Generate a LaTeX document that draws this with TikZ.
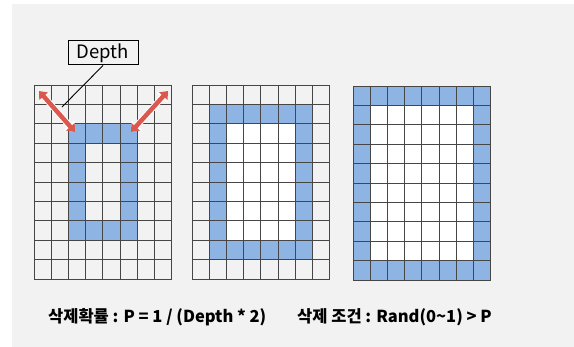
\documentclass[tikz,border=0pt]{standalone}
\usepackage{fontspec}
\setmainfont{Noto Sans CJK KR}
\usetikzlibrary{arrows.meta}
\definecolor{panel}{RGB}{242,242,242}
\definecolor{ring}{RGB}{141,180,226}
\definecolor{gridline}{RGB}{70,70,70}
\definecolor{arrowred}{RGB}{218,88,78}

% grid: x0, y0, ring from (col,row) to (col,row), inner colour
\newcommand{\ringgrid}[7]{%
  \begin{scope}[shift={(#1,#2)}, x=17.2pt, y=-19.4pt]
    \fill[ring] (#3,#4) rectangle (#5,#6);
    \fill[#7] (#3+1,#4+1) rectangle (#5-1,#6-1);
    \foreach \i in {0,...,8}
      \draw[gridline, line width=0.8pt] (\i,0) -- (\i,10);
    \foreach \j in {0,...,10}
      \draw[gridline, line width=0.8pt] (0,\j) -- (8,\j);
  \end{scope}}

\begin{document}
\begin{tikzpicture}[x=1pt, y=-1pt,
    depthbox/.style={draw, line width=1pt, minimum width=70pt, minimum height=24pt,
      inner sep=0pt, font=\fontsize{18.5}{18.5}\selectfont},
    formula/.style={anchor=west, inner sep=0pt, font=\fontsize{16.5}{20}\selectfont\bfseries},
    redarrow/.style={arrowred, line width=4.5pt,
      {Triangle[width=11pt,length=7pt]}-{Triangle[width=11pt,length=7pt]}},
    halo/.style={white, line width=6.5pt,
      {Triangle[width=14pt,length=9pt]}-{Triangle[width=14pt,length=9pt]}}]
  \useasboundingbox (0,0) rectangle (574,347);
  \fill[panel] (12,4) rectangle (574,347);

  % three grids
  \ringgrid{34}{85}{2}{2}{6}{8}{panel}
  \ringgrid{192}{85}{1}{1}{7}{9}{white}
  \ringgrid{353}{86}{0}{0}{8}{10}{white}

  % depth label
  \node[depthbox] (depth) at (103,53) {Depth};
  \coordinate (dtip) at (62,107);
  \draw[line width=0.9pt] (depth.south) -- (dtip);

  % arrows
  \coordinate (la) at (39,91);
  \coordinate (lb) at (75,132);
  \coordinate (ra) at (168,91);
  \coordinate (rb) at (131,132);
  \draw[halo] (la) -- (lb);
  \draw[halo] (ra) -- (rb);
  \draw[redarrow] (la) -- (lb);
  \draw[redarrow] (ra) -- (rb);

  % formulas
  \node[formula] (prob) at (48,317) {삭제확률 : P = 1 / (Depth * 2)};
  \node[formula] (cond) at (297,317) {삭제 조건 : Rand(0\textasciitilde 1) > P};
\end{tikzpicture}
\end{document}
